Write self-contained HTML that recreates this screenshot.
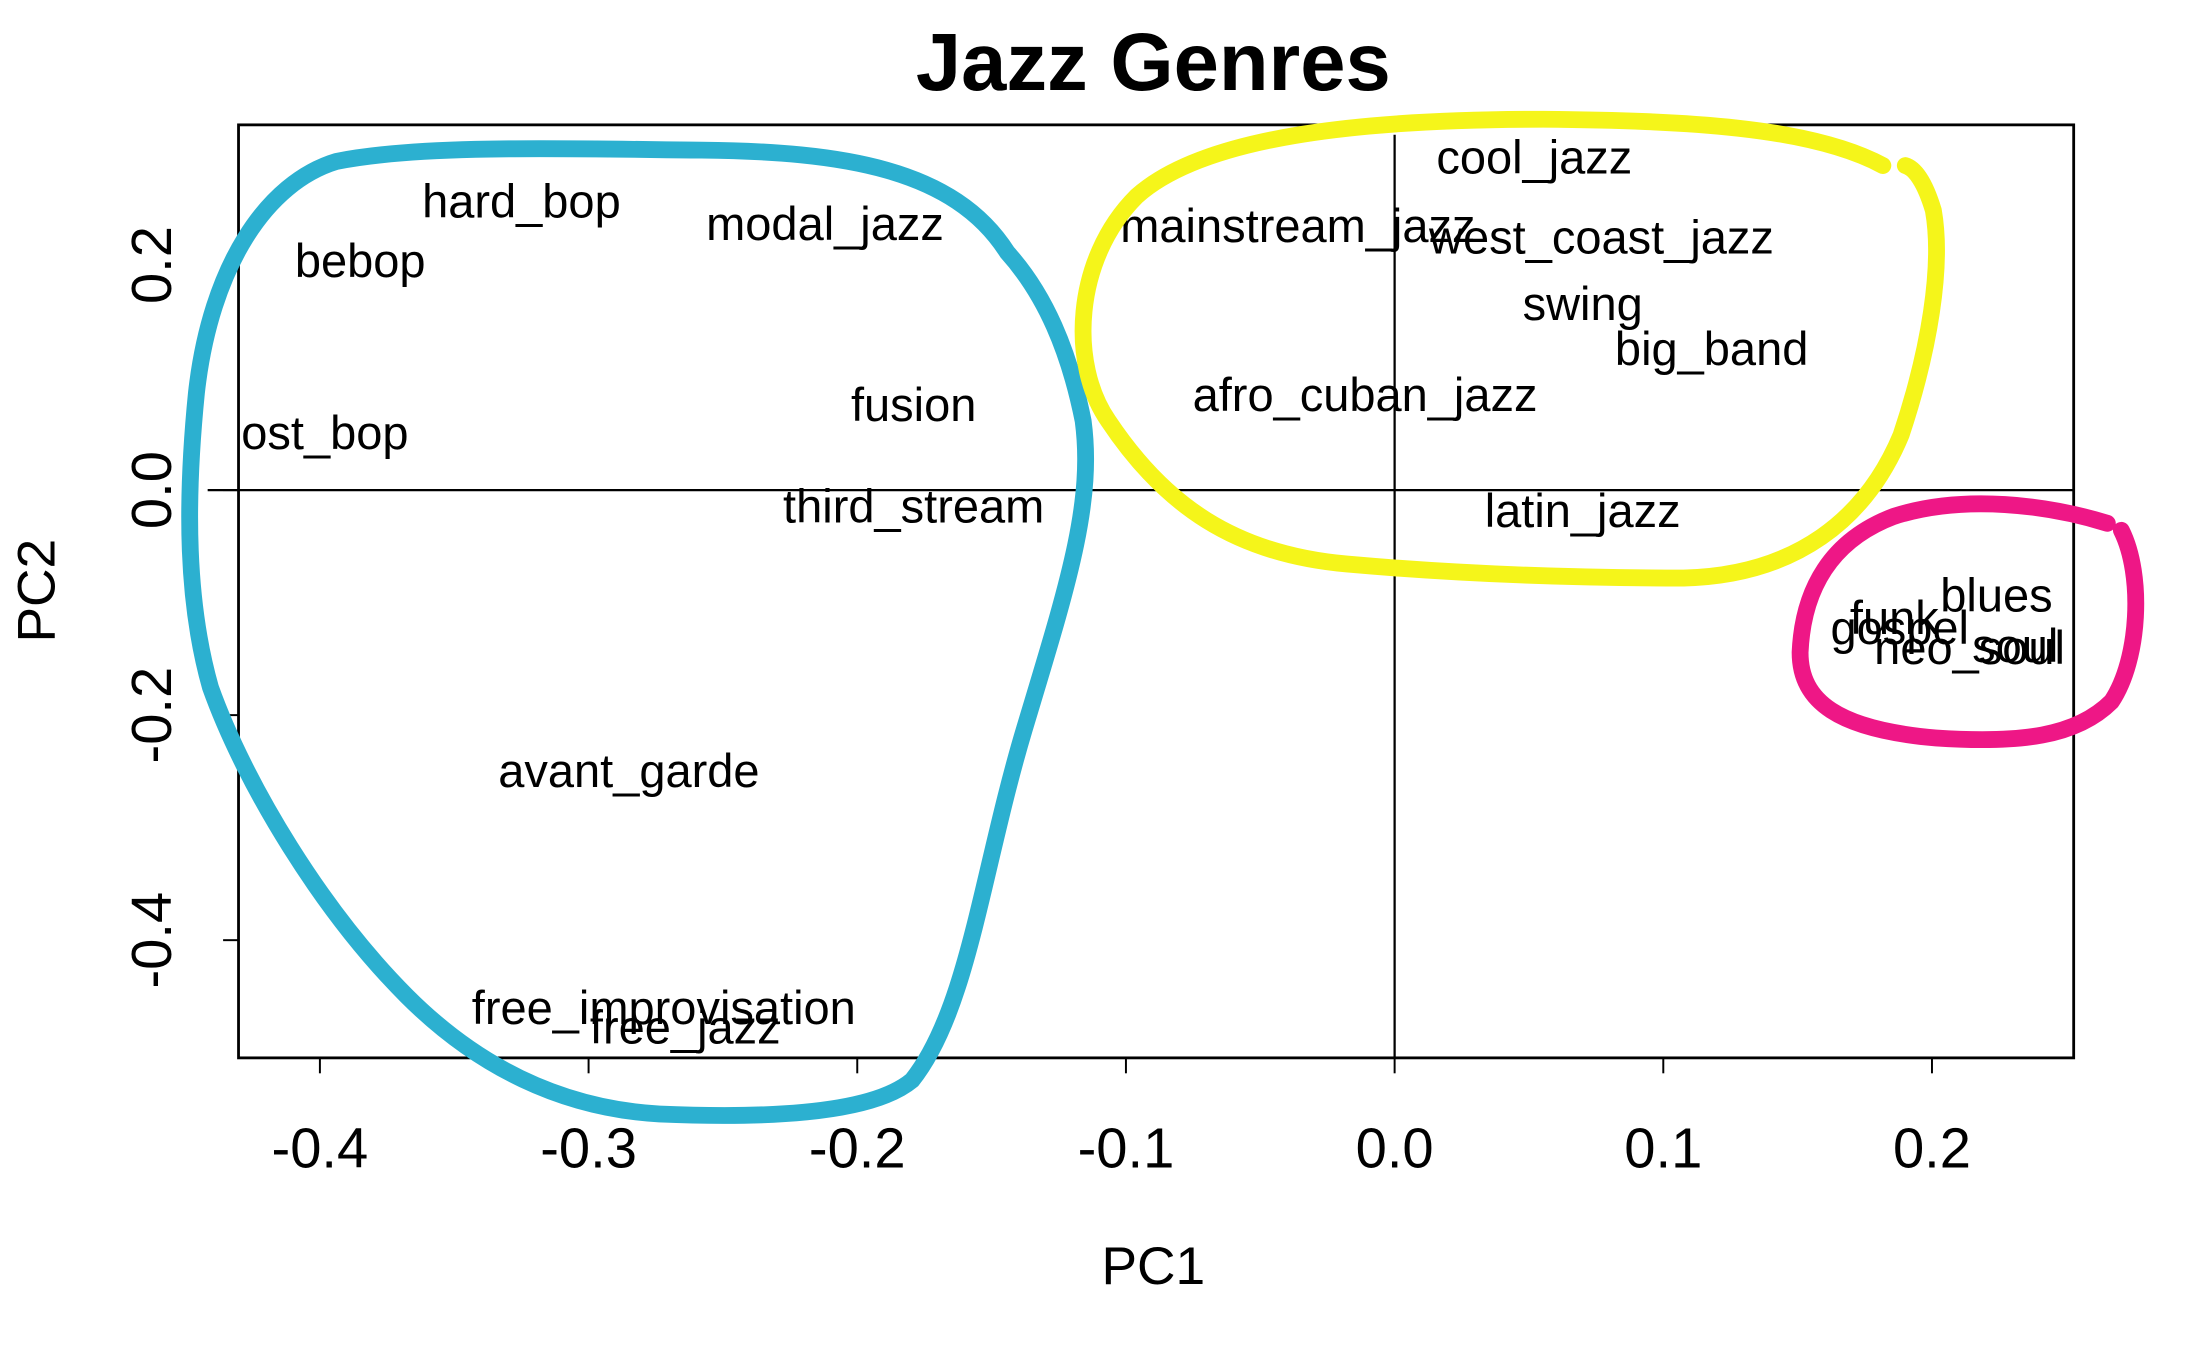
<!DOCTYPE html>
<html><head><meta charset="utf-8">
<style>
html,body{margin:0;padding:0;background:#fff;}
svg{display:block;}
text{font-family:"Liberation Sans",Arial,sans-serif;fill:#000;}
</style></head>
<body>
<svg id="chart" xmlns="http://www.w3.org/2000/svg" width="2198" height="1357" viewBox="0 0 1566.6 967.2">
<defs><clipPath id="plotclip"><rect x="170" y="89" width="1308" height="665"/></clipPath></defs>
<rect x="0" y="0" width="1566.6" height="967.2" fill="#fff"/>
<text x="822" y="64" text-anchor="middle" font-size="58" font-weight="bold">Jazz Genres</text>
<g id="axes"></g>
<g id="labels" clip-path="url(#plotclip)"></g>
<g id="annot" fill="none" stroke-linecap="round" stroke-linejoin="round"></g>
</svg>
<script>
const genres = ["hard_bop","bebop","post_bop","modal_jazz","fusion","third_stream","avant_garde","free_improvisation","free_jazz","cool_jazz","mainstream_jazz","west_coast_jazz","swing","big_band","afro_cuban_jazz","latin_jazz","blues","funk","gospel","neo_soul","soul"];
const pc1 = [-0.325,-0.385,-0.403,-0.212,-0.179,-0.179,-0.285,-0.272,-0.264,0.052,-0.036,0.077,0.070,0.118,-0.011,0.070,0.224,0.186,0.188,0.214,0.231];
const pc2 = [0.256,0.203,0.050,0.236,0.075,-0.015,-0.250,-0.461,-0.478,0.295,0.234,0.224,0.165,0.125,0.084,-0.019,-0.094,-0.114,-0.123,-0.141,-0.139];
const xTicks = [-0.4,-0.3,-0.2,-0.1,0.0,0.1,0.2];
const yTicks = [-0.4,-0.2,0.0,0.2];

const NS = "http://www.w3.org/2000/svg";
const L=170,R=1478,T=89,B=754;
function sx(v){return 994 + v*1915;}
function sy(v){return 349.3 - v*802;}
function mk(tag, attrs, parent){const e=document.createElementNS(NS,tag);for(const k in attrs)e.setAttribute(k,attrs[k]);parent.appendChild(e);return e;}
const axes=document.getElementById('axes');
let box=mk('rect',{x:L,y:T,width:R-L,height:B-T,fill:'none',stroke:'#000','stroke-width':2},axes);


let hl=mk('line',{x1:148,x2:R,y1:sy(0),y2:sy(0),stroke:'#000','stroke-width':1.6},axes);


let vl=mk('line',{x1:sx(0),x2:sx(0),y1:T+7,y2:B,stroke:'#000','stroke-width':1.6},axes);


xTicks.forEach(v=>{
  const x=sx(v);
  let t=mk('line',{x1:x,x2:x,y1:B,y2:B+11,stroke:'#000','stroke-width':1.4},axes);
  
  
  let tx=mk('text',{x:x,y:832,'text-anchor':'middle','font-size':40},axes);
  tx.textContent=v.toFixed(1);
  
  
});
yTicks.forEach(v=>{
  const y=sy(v);
  let t=mk('line',{x1:L-11,x2:L,y1:y,y2:y,stroke:'#000','stroke-width':1.4},axes);
  
  
  let tx=mk('text',{x:0,y:0,'text-anchor':'middle','font-size':40,transform:`translate(122,${y}) rotate(-90)`},axes);
  tx.textContent=v.toFixed(1);
  
  
});
let xt=mk('text',{x:822,y:915,'text-anchor':'middle','font-size':38},axes);
xt.textContent='PC1';


let yt=mk('text',{x:0,y:0,'text-anchor':'middle','font-size':38,transform:'translate(39,421) rotate(-90)'},axes);
yt.textContent='PC2';


const lg=document.getElementById('labels');
genres.forEach((g,i)=>{
  let t=mk('text',{x:sx(pc1[i]),y:sy(pc2[i])+11,'text-anchor':'middle','font-size':33.5},lg);
  t.textContent=g;
  
  
});
const an=document.getElementById('annot');
let p1=mk('path',{stroke:'#2cb0d0','stroke-width':12,d:'M718,180 C680,120 600,108 500,107 C400,106 300,103 240,115 C190,130 150,190 140,280 C132,360 133,430 150,490 C175,560 230,650 290,710 C340,760 400,790 470,794 C540,797 620,795 650,770 C690,720 700,620 730,520 C760,420 780,360 772,300 C762,250 745,210 718,180'},an);


let p2=mk('path',{stroke:'#f5f51a','stroke-width':12,d:'M1342,118 C1290,90 1200,86 1100,85 C980,85 860,95 810,140 C765,185 762,260 790,300 C830,360 880,395 960,402 C1050,410 1130,412 1200,412 C1280,410 1330,370 1355,310 C1375,250 1385,190 1378,150 C1372,130 1365,120 1358,118'},an);


let p3=mk('path',{stroke:'#ee1786','stroke-width':12,d:'M1502,373 C1460,360 1400,352 1350,368 C1305,385 1285,420 1283,465 C1283,500 1310,520 1380,526 C1440,530 1480,525 1505,500 C1525,470 1528,410 1512,378'},an);


</script>
</body></html>
